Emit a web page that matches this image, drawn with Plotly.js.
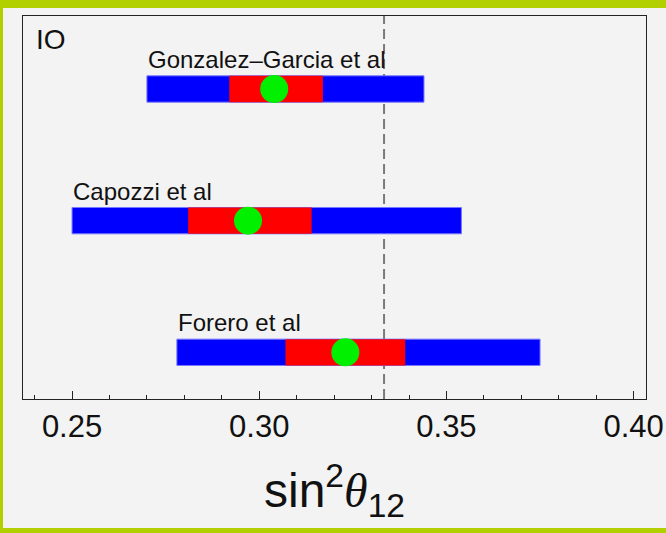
<!DOCTYPE html>
<html>
<head>
<meta charset="utf-8">
<script src="https://cdn.plot.ly/plotly-3.0.1.min.js"></script>
<style>
  html, body { margin: 0; padding: 0; width: 100%; height: 100%; background: #f3f3f3; overflow: hidden; }
  #chart { position: absolute; left: 3px; top: 8px; width: 663px; height: 520px; }
  .edge { position: absolute; background: #b2d000; z-index: 5; }
</style>
</head>
<body>
<div id="chart"></div>
<div class="edge" style="left:0;top:0;width:100%;height:8px"></div>
<div class="edge" style="left:0;top:0;width:3px;height:100%"></div>
<div class="edge" style="left:0;top:528px;width:100%;height:20px"></div>
<script>
// Data (sin^2 theta_12, inverted ordering)
const studies = ["Gonzalez\u2013Garcia et al", "Capozzi et al", "Forero et al"];
const rowPos = [3, 2, 1];
const bestFit = [0.304, 0.297, 0.323];
const lo1sigma = [0.292, 0.281, 0.307];
const hi1sigma = [0.317, 0.314, 0.339];
const lo3sigma = [0.270, 0.250, 0.278];
const hi3sigma = [0.344, 0.354, 0.375];
const refValue = [1 / 3];          // tri-bimaximal value (dashed line)
const panelLabel = ["IO"];
const axisTitle = 'sin<sup>2</sup><span style="font-family:\'Liberation Serif\', \'DejaVu Serif\', serif;font-style:italic">\u03b8</span><sub>12</sub>';

const font = "Liberation Sans, Arial, Helvetica, sans-serif";

const traces = [
  {
    type: "bar", orientation: "h",
    y: rowPos, base: lo3sigma,
    x: hi3sigma.map((h, i) => h - lo3sigma[i]),
    width: 0.2,
    marker: { color: "#0000ff", line: { color: "rgb(120,120,255)", width: 1 } },
    hoverinfo: "skip"
  },
  {
    type: "bar", orientation: "h",
    y: rowPos, base: lo1sigma,
    x: hi1sigma.map((h, i) => h - lo1sigma[i]),
    width: 0.2,
    marker: { color: "#ff0000", line: { width: 0 } },
    hoverinfo: "skip"
  },
  {
    type: "scatter", mode: "markers",
    x: bestFit, y: rowPos,
    marker: { color: "#00f000", size: 28, line: { width: 0 } },
    hoverinfo: "skip"
  }
];

const annotations = studies.map((s, i) => ({
  x: lo3sigma[i], y: rowPos[i], xref: "x", yref: "y",
  text: s, showarrow: false, xanchor: "left", yanchor: "bottom",
  yshift: 14, xshift: -1,
  font: { family: font, size: 24, color: "#111" }
}));
annotations.push({
  x: 0.018, y: 0.985, xref: "paper", yref: "paper",
  text: panelLabel[0], showarrow: false, xanchor: "left", yanchor: "top",
  font: { family: font, size: 28, color: "#111" }
});
// x-axis title (placed as annotation so it can sit low in the margin)
annotations.push({
  x: 0.5, y: 0, xref: "paper", yref: "paper",
  text: axisTitle, showarrow: false, xanchor: "center", yanchor: "top",
  yshift: -56,
  font: { family: font, size: 48, color: "#111" }
});

const layout = {
  width: 663, height: 520,
  margin: { l: 20, r: 20, t: 8, b: 129, pad: 0 },
  paper_bgcolor: "#f3f3f3",
  plot_bgcolor: "#f3f3f3",
  barmode: "overlay",
  showlegend: false,
  hovermode: false,
  xaxis: {
    range: [0.2369, 0.4033],
    tickmode: "linear", tick0: 0.25, dtick: 0.05, tickformat: ".2f",
    ticks: "inside", ticklen: 8, tickwidth: 1, tickcolor: "#222",
    minor: { tickmode: "linear", tick0: 0, dtick: 0.01, ticks: "inside", ticklen: 4, tickwidth: 1, tickcolor: "#222" },
    tickfont: { family: font, size: 31, color: "#111" },
    showgrid: false, zeroline: false,
    showline: true, mirror: true, linecolor: "#222", linewidth: 1
  },
  yaxis: {
    range: [0.6453, 3.5545],
    showticklabels: false, ticks: "",
    showgrid: false, zeroline: false,
    showline: true, mirror: true, linecolor: "#222", linewidth: 1
  },
  shapes: [{
    type: "line", xref: "x", yref: "paper",
    x0: refValue[0], x1: refValue[0], y0: 0, y1: 1,
    layer: "below",
    line: { color: "#7a7a7a", width: 2, dash: "10px,5px" }
  }],
  annotations: annotations
};

Plotly.newPlot("chart", traces, layout, { displayModeBar: false, staticPlot: true });
</script>
</body>
</html>
